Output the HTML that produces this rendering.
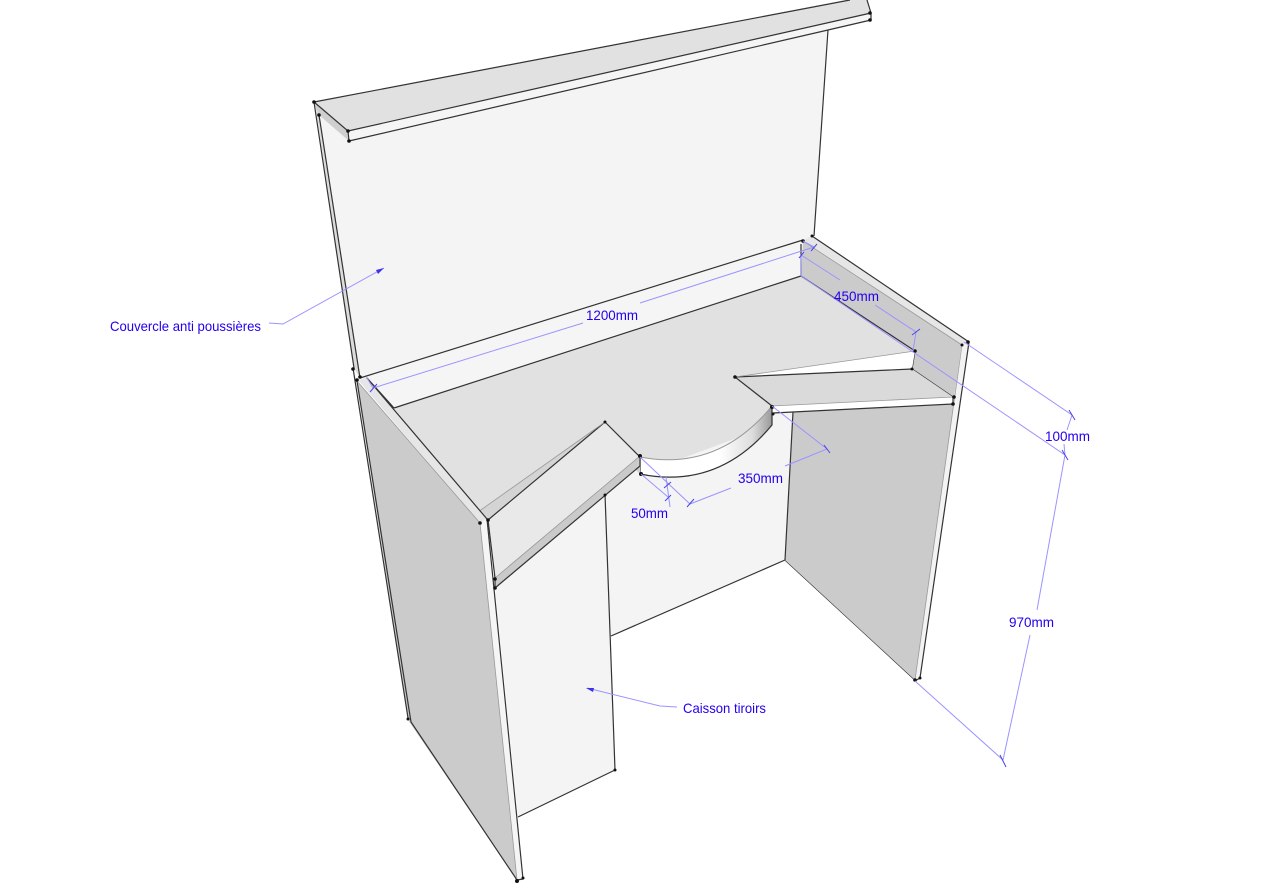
<!DOCTYPE html>
<html><head><meta charset="utf-8"><style>
html,body{margin:0;padding:0;background:#fff;width:1261px;height:888px;overflow:hidden}
svg{display:block}
text{font-family:"Liberation Sans",sans-serif;font-size:14px;fill:#2200ee}
.e{stroke:#333;stroke-width:1.2;stroke-linejoin:round}
.s{stroke:#999;stroke-width:.8}
.d{stroke:#9a94ff;stroke-width:1;fill:none}
.t{stroke:#4a44e8;stroke-width:1;fill:none}
</style></head><body>
<svg width="1261" height="888" viewBox="0 0 1261 888" xmlns="http://www.w3.org/2000/svg">
<defs><linearGradient id="g" x1="640" x2="772" y1="0" y2="0" gradientUnits="userSpaceOnUse">
<stop offset="0" stop-color="#fff"/><stop offset=".6" stop-color="#fff"/><stop offset=".85" stop-color="#ddd"/><stop offset="1" stop-color="#999"/></linearGradient></defs>

<!-- lid -->
<polygon points="319,115 349,141 828,30 814,236 360,378" fill="#f4f4f4"/>
<polygon points="315,102 319,115 360,378 354,368" fill="#dcdcdc"/>
<polygon points="314,102 850,-1 867,-1 871,13 348,131" fill="#e1e1e1"/>
<polygon points="348,131 871,13 871,20 349,141" fill="#f5f5f5"/>
<polygon points="314,102 348,131 349,141 319,115" fill="#cfcfcf"/>
<path class="e" fill="none" d="M314,102 L850,0 M867,0 L871,13 L871,20 L828,30 M871,13 L348,131 L314,102 L354,368 M348,131 L349,141 L828,30 L814,236 M319,115 L360,378"/>

<!-- back strip and deck -->
<polygon points="360,378 814,236 801,276 394,408" fill="#f5f5f5"/>
<path d="M394,408 L801,276 L915,351 L735,377 L772,406 Q718,472 640,457 L605,422 L478,512 Z" fill="#e1e1e1"/>

<!-- interior panels -->
<polygon points="605,494 640,466 640,474 772,425 772,413 793,412 785,560 611,636" fill="#f4f4f4"/>
<polygon points="495,588 605,494 615,770 518,817" fill="#f4f4f4"/>
<path class="e" fill="none" d="M605,494 L615,770 L518,817 M611,636 L785,560 L915,680"/>

<!-- right panel -->
<polygon points="793,412 955,403 915,680 785,560" fill="#cbcbcb"/>
<polygon points="954,403 962,345 969,342 920,678 915,681" fill="#f3f3f3"/>
<path class="e" fill="none" d="M969,342 L920,678 L915,681 M785,560 L793,412"/>
<line class="s" x1="962" y1="345" x2="915" y2="680"/>

<!-- right back wall -->
<polygon points="803,241 962,345 954,397 912,369 915,351 801,276" fill="#cbcbcb"/>
<polygon points="803,240 812,236 969,342 962,345" fill="#e6e6e6"/>
<path class="e" fill="none" d="M812,236 L969,342 M801,244 L801,276 L915,351 L912,369 L953,397"/>
<line class="s" x1="803" y1="241" x2="962" y2="345"/>

<!-- right shelf -->
<polygon points="735,377 915,351 912,369" fill="#fff"/>
<polygon points="735,377 912,369 953,397 772,406" fill="#dadada"/>
<polygon points="772,406 953,397 953,404 773,413" fill="#fff"/>
<path class="e" fill="none" d="M735,377 L912,369 M735,377 L772,406 M773,413 L953,404 L953,397"/>
<line class="s" x1="735" y1="377" x2="915" y2="351"/>
<line class="s" x1="772" y1="406" x2="953" y2="397"/>

<!-- round cutout band -->
<path d="M640,457 Q718,472 772,406 L772,425 Q718,490 640,474 Z" fill="url(#g)"/>
<path class="e" fill="none" d="M772,406 L772,425 Q718,490 640,474 L640,457"/>
<path d="M640,457 Q718,472 772,406" fill="none" stroke="#999" stroke-width="1"/>

<!-- left shelf -->
<polygon points="478,512 605,422 488,520" fill="#d4d4d4"/>
<polygon points="605,422 640,456 495,578 488,520" fill="#e9e9e9"/>
<polygon points="640,456 495,578 495,588 640,466" fill="#cacaca"/>
<polygon points="640,457 640,474 636,470" fill="#cfcfcf"/>
<path class="e" fill="none" d="M605,422 L488,520 L495,578 L495,588 L640,466 L640,457 L605,422"/>
<line class="s" x1="478" y1="512" x2="605" y2="422"/>
<line class="s" x1="495" y1="578" x2="640" y2="456"/>

<!-- left side -->
<polygon points="357,381 480,523 517,880 408,720" fill="#cbcbcb"/>
<polygon points="354,368 357,381 408,720" fill="#f0f0f0"/>
<polygon points="358,380 367,378 487,519 480,523" fill="#e6e6e6"/>
<polygon points="480,523 487,519 523,879 517,881" fill="#f5f5f5"/>
<path class="e" fill="none" d="M353,368 L408,718 M357,381 L411,722 L517,880 L523,879 L487,519 L367,378 L394,408 M394,408 L801,276 M360,378 L803,240"/>
<line class="s" x1="357" y1="381" x2="480" y2="523"/>
<line class="s" x1="480" y1="523" x2="517" y2="880"/>

<!-- vertices -->
<g fill="#111">
<circle cx="314" cy="102" r="1.8"/><circle cx="319" cy="115" r="1.8"/><circle cx="348" cy="131" r="1.8"/><circle cx="349" cy="141" r="1.8"/>
<circle cx="870" cy="13" r="1.8"/><circle cx="870" cy="20" r="1.8"/><circle cx="353" cy="369" r="1.8"/><circle cx="357" cy="380" r="1.8"/><circle cx="360" cy="377" r="1.8"/>
<circle cx="480" cy="523" r="1.8"/><circle cx="488" cy="520" r="1.8"/><circle cx="495" cy="579" r="1.8"/><circle cx="495" cy="588" r="1.8"/>
<circle cx="605" cy="422" r="1.5"/><circle cx="605" cy="495" r="1.5"/><circle cx="640" cy="456" r="2"/><circle cx="641" cy="474" r="2"/>
<circle cx="735" cy="377" r="1.8"/><circle cx="772" cy="407" r="2"/><circle cx="773" cy="414" r="1.5"/><circle cx="915" cy="351" r="1.8"/><circle cx="912" cy="369" r="1.5"/>
<circle cx="954" cy="397" r="1.8"/><circle cx="953" cy="404" r="1.8"/><circle cx="803" cy="241" r="1.8"/><circle cx="812" cy="236" r="1.5"/>
<circle cx="962" cy="345" r="1.5"/><circle cx="968" cy="342" r="1.8"/><circle cx="915" cy="680" r="1.8"/><circle cx="920" cy="678" r="1.5"/>
<circle cx="408" cy="719" r="1.5"/><circle cx="615" cy="770" r="1.5"/><circle cx="517" cy="881" r="2"/><circle cx="523" cy="878" r="1.5"/>
</g>

<!-- dimensions -->
<path class="d" d="M373,388 L583,323 M640,303 L814,247 M367,378 L373,388 M803,241 L814,247"/>
<path class="d" d="M801,276 L801,255 L840,280 M875,305 L916,332 L913,351 M964,342 L1072,415 L1067,430 M1064,444 L1065,455 M801,276 L1065,455 L1037,610 M1030,635 L1003,760 L915,681"/>
<path class="d" d="M772,406 L827,449 L785,466 M731,488 L690,504 L640,457 M641,474 L668,497 M666,477 L670,507"/>
<path class="t" d="M370,392 L377,384 M811,251 L817,244 M799,258 L804,252 M912,335 L920,329 M1069,410 L1075,420 M1062,450 L1068,460 M1000,755 L1006,767 M824,445 L830,453 M687,507 L694,499 M664,488 L671,482 M665,501 L671,495"/>

<!-- leaders -->
<path class="d" d="M269,323 L283,324 L384,268 M677,707 L660,706 L587,688"/>
<polygon points="384,268 376,270 378,274" fill="#3a30ee"/>
<polygon points="586,688 594,688 593,692" fill="#3a30ee"/>

<!-- labels -->
<text x="110" y="331" textLength="151" lengthAdjust="spacingAndGlyphs">Couvercle anti poussières</text>
<text x="683" y="713" textLength="83" lengthAdjust="spacingAndGlyphs">Caisson tiroirs</text>
<text x="586" y="320" textLength="52" lengthAdjust="spacingAndGlyphs">1200mm</text>
<text x="834" y="301" textLength="45" lengthAdjust="spacingAndGlyphs">450mm</text>
<text x="1045" y="441" textLength="45" lengthAdjust="spacingAndGlyphs">100mm</text>
<text x="1009" y="627" textLength="45" lengthAdjust="spacingAndGlyphs">970mm</text>
<text x="738" y="483" textLength="45" lengthAdjust="spacingAndGlyphs">350mm</text>
<text x="631" y="518" textLength="37" lengthAdjust="spacingAndGlyphs">50mm</text>
</svg>
</body></html>
